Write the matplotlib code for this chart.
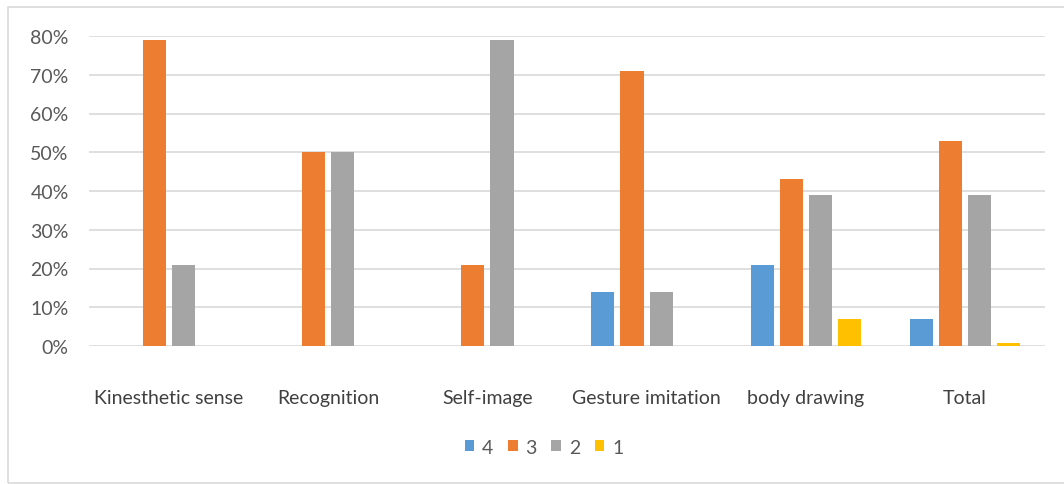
import matplotlib
matplotlib.use("Agg")
import matplotlib.pyplot as plt
import matplotlib.patches as mpatches
from matplotlib.ticker import PercentFormatter
import numpy as np

# ── Data ────────────────────────────────────────────────────────────────
categories = ["Kinesthetic sense", "Recognition", "Self-image",
              "Gesture imitation", "body drawing", "Total"]
series_names = ["4", "3", "2", "1"]
level_4 = [0.00, 0.00, 0.00, 0.14, 0.21, 0.07]
level_3 = [0.79, 0.50, 0.21, 0.71, 0.43, 0.53]
level_2 = [0.21, 0.50, 0.79, 0.14, 0.39, 0.39]
level_1 = [0.00, 0.00, 0.00, 0.00, 0.07, 0.008]
yticks = [0.0, 0.1, 0.2, 0.3, 0.4, 0.5, 0.6, 0.7, 0.8]

# ── Style ───────────────────────────────────────────────────────────────
COLORS = ["#5B9BD5", "#ED7D31", "#A5A5A5", "#FFC000"]
TEXT = "#595959"
XTEXT = "#404040"
GRID = "#D9D9D9"
FONT = "Lato"
FS = 14

fig = plt.figure(figsize=(10.64, 4.85), dpi=100, facecolor="white")
ax = fig.add_axes([89.4 / 1064, 1 - 347 / 485, (1044.6 - 89.4) / 1064, 310 / 485])

# outer chart border
fig.add_artist(mpatches.Rectangle((8 / 1064, 1 / 485), 1.0, 476 / 485,
                                  transform=fig.transFigure, fill=False,
                                  edgecolor="#D9D9D9", linewidth=1.2))

x = np.arange(len(categories))
width = 0.145
step = 0.183
for k, (vals, name, col) in enumerate(zip([level_4, level_3, level_2, level_1],
                                          series_names, COLORS)):
    offset = (k - 1.5) * step
    ax.bar(x + offset, vals, width=width, color=col, label=name, zorder=3)

ax.set_xlim(-0.5, len(categories) - 0.5)
ax.set_ylim(0, 0.8)
ax.set_yticks(yticks)
ax.yaxis.set_major_formatter(PercentFormatter(1.0, decimals=0))
ax.set_xticks(x)
ax.set_xticklabels(categories)
ax.grid(axis="y", color=GRID, linewidth=1.2, zorder=0)
for s in ax.spines.values():
    s.set_visible(False)
ax.tick_params(axis="both", length=0, labelsize=FS)
ax.tick_params(axis="x", pad=31, labelcolor=XTEXT)
ax.tick_params(axis="y", pad=15, labelcolor=TEXT)
for lbl in ax.get_xticklabels() + ax.get_yticklabels():
    lbl.set_fontfamily(FONT)

leg = fig.legend(handles=ax.get_legend_handles_labels()[0],
                 labels=series_names, loc="center",
                 bbox_to_anchor=(544 / 1064, 1 - 448 / 485), ncol=4,
                 frameon=False, handlelength=0.5, handleheight=0.5,
                 handletextpad=0.4, columnspacing=0.75,
                 prop={"family": FONT, "size": FS})
for t in leg.get_texts():
    t.set_color(TEXT)

fig.savefig("out.png", dpi=100, facecolor="white")
